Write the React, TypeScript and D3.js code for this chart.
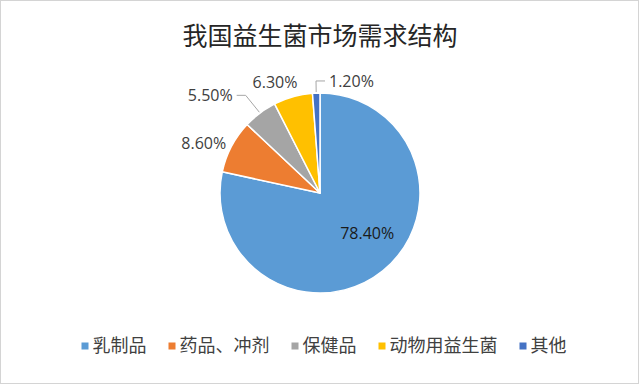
import { useRef, useEffect } from 'react';
import * as d3 from 'd3';

const WIDTH = 640;
const HEIGHT = 385;
const CX = 320;
const CY = 193;
const RADIUS = 100;

const TITLE = '我国益生菌市场需求结构';
const CATEGORIES = ['乳制品', '药品、冲剂', '保健品', '动物用益生菌', '其他'];
const VALUES = [78.4, 8.6, 5.5, 6.3, 1.2];
const LABELS = ['78.40%', '8.60%', '5.50%', '6.30%', '1.20%'];
const COLORS = ['#5b9bd5', '#ed7d31', '#a5a5a5', '#ffc000', '#4472c4'];

// label placement: angle (deg, null = slice middle), radius, anchor, leader line
const LABEL_LAYOUT = [
  { angle: 130.4, radius: 62, anchor: 'middle', leader: false },
  { angle: null, radius: 106, anchor: 'end', leader: false },
  { angle: 318.2, radius: 131, anchor: 'end', leader: true },
  { angle: 337.8, radius: 119, anchor: 'middle', leader: false },
  { angle: 4.6, radius: 112.4, anchor: 'start', leader: true },
];

const CJK = '"Noto Sans CJK SC", "Noto Sans", sans-serif';
const LATIN = '"Open Sans", "Liberation Sans", sans-serif';

export default function App() {
  const svgRef = useRef<SVGSVGElement>(null);

  useEffect(() => {
    const svg = d3.select(svgRef.current);
    svg.selectAll('*').remove();

    svg.append('rect')
      .attr('x', 0.5).attr('y', 0.5)
      .attr('width', WIDTH - 2).attr('height', HEIGHT - 2)
      .attr('fill', '#fff')
      .attr('stroke', '#d4d4d4');

    svg.append('text')
      .attr('x', CX).attr('y', 45)
      .attr('text-anchor', 'middle')
      .attr('fill', '#262626')
      .attr('font-size', 25)
      .attr('font-family', CJK)
      .text(TITLE);

    const data = CATEGORIES.map((c, i) => ({ name: c, value: VALUES[i], label: LABELS[i], color: COLORS[i] }));

    const pie = d3.pie<any>().sort(null).value(d => d.value);
    const arcs = pie(data);
    const arc = d3.arc<any>().innerRadius(0).outerRadius(RADIUS);

    const g = svg.append('g').attr('transform', `translate(${CX},${CY})`);

    g.selectAll('path.slice')
      .data(arcs)
      .join('path')
      .attr('class', 'slice')
      .attr('d', arc)
      .attr('fill', d => d.data.color)
      .attr('stroke', '#fff')
      .attr('stroke-width', 1.5)
      .attr('stroke-linejoin', 'round');

    const polar = (deg: number, r: number) => {
      const a = (deg * Math.PI) / 180;
      return [Math.sin(a) * r, -Math.cos(a) * r];
    };

    arcs.forEach((d, i) => {
      const lay = LABEL_LAYOUT[i];
      const mid = ((d.startAngle + d.endAngle) / 2) * 180 / Math.PI;
      const ang = lay.angle == null ? mid : lay.angle;
      const [lx, ly] = polar(ang, lay.radius);

      if (lay.leader) {
        const dir = lay.anchor === 'end' ? -1 : 1;
        const [sx, sy] = polar(mid, RADIUS + 1);
        const ex = lx - dir * 13;
        const endX = lx - dir * 4;
        g.append('path')
          .attr('d', `M${sx},${sy}L${ex},${ly}L${endX},${ly}`)
          .attr('fill', 'none')
          .attr('stroke', '#a6a6a6')
          .attr('stroke-width', 1);
      }

      g.append('text')
        .attr('x', lx).attr('y', ly)
        .attr('dy', '0.35em')
        .attr('text-anchor', lay.anchor)
        .attr('fill', i === 0 ? '#1a1a1a' : '#404040')
        .attr('font-size', 16)
        .attr('font-family', LATIN)
        .text(d.data.label);
    });

    // Legend
    const legend = svg.append('g').attr('transform', `translate(0, 346)`);
    const items = legend.selectAll('g')
      .data(data)
      .join('g');
    items.append('rect')
      .attr('x', 0).attr('y', -3.5)
      .attr('width', 7).attr('height', 7)
      .attr('fill', d => d.color);
    items.append('text')
      .attr('x', 11).attr('y', 0)
      .attr('dy', '0.35em')
      .attr('fill', '#404040')
      .attr('font-size', 18)
      .attr('font-family', CJK)
      .text(d => d.name);

    const widths: number[] = [];
    items.each(function () {
      const t = d3.select(this).select('text').node() as SVGTextElement;
      widths.push(11 + t.getComputedTextLength());
    });
    const gap = 22;
    const total = d3.sum(widths) + gap * (widths.length - 1);
    let x = 324 - total / 2;
    items.attr('transform', (_, i) => {
      const t = `translate(${x},0)`;
      x += widths[i] + gap;
      return t;
    });
  }, []);

  return (
    <svg
      ref={svgRef}
      width={WIDTH}
      height={HEIGHT}
      style={{ position: 'absolute', left: 0, top: 0 }}
    />
  );
}
